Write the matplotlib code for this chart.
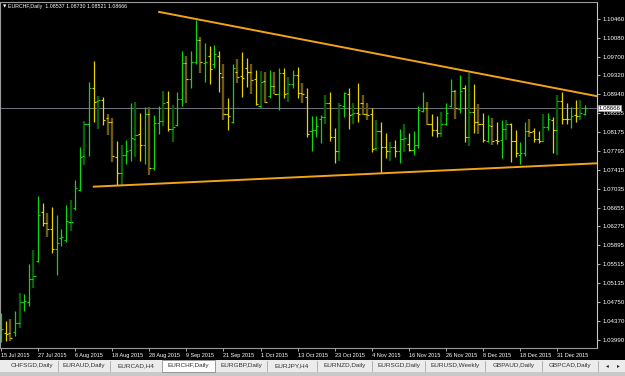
import matplotlib
matplotlib.use("Agg")
import matplotlib.pyplot as plt
from matplotlib.patches import Rectangle

# ---- data ----
opens = [1.0413, 1.0413, 1.0412, 1.0414, 1.0432, 1.0475, 1.0476, 1.0522, 1.0557, 1.0656,
         1.0634, 1.0622, 1.0581, 1.0604, 1.0600, 1.0636, 1.0665, 1.0701, 1.0770, 1.0835,
         1.0906, 1.0880, 1.0882, 1.0846, 1.0839, 1.0768, 1.0735, 1.0772, 1.0782, 1.0803,
         1.0813, 1.0792, 1.0854, 1.0746, 1.0837, 1.0840, 1.0878, 1.0824, 1.0833, 1.0884,
         1.0958, 1.0924, 1.0960, 1.1003, 1.0958, 1.0972, 1.0956, 1.0972, 1.0928, 1.0854,
         1.0838, 1.0938, 1.0930, 1.0946, 1.0938, 1.0924, 1.0871, 1.0921, 1.0890, 1.0911,
         1.0895, 1.0936, 1.0896, 1.0914, 1.0933, 1.0896, 1.0888, 1.0820, 1.0822, 1.0845,
         1.0848, 1.0876, 1.0807, 1.0780, 1.0871, 1.0894, 1.0854, 1.0857, 1.0876, 1.0854,
         1.0854, 1.0785, 1.0819, 1.0787, 1.0780, 1.0787, 1.0780, 1.0803, 1.0794, 1.0782,
         1.0792, 1.0861, 1.0866, 1.0834, 1.0822, 1.0816, 1.0835, 1.0871, 1.0901, 1.0864,
         1.0906, 1.0808, 1.0859, 1.0839, 1.0835, 1.0800, 1.0830, 1.0802, 1.0802, 1.0823,
         1.0835, 1.0800, 1.0772, 1.0776, 1.0819, 1.0819, 1.0803, 1.0800, 1.0827, 1.0842,
         1.0821, 1.0881, 1.0845, 1.0844, 1.0852, 1.0850, 1.08537]
highs = [1.0452, 1.0437, 1.0440, 1.0456, 1.0493, 1.0492, 1.0552, 1.0580, 1.0689, 1.0674,
         1.0655, 1.0666, 1.0651, 1.0622, 1.0671, 1.0681, 1.0721, 1.0787, 1.0840, 1.0918,
         1.0961, 1.0890, 1.0889, 1.0854, 1.0847, 1.0800, 1.0792, 1.0802, 1.0876, 1.0879,
         1.0856, 1.0869, 1.0868, 1.0852, 1.0871, 1.0901, 1.0901, 1.0872, 1.0898, 1.0981,
         1.0972, 1.0981, 1.1044, 1.1010, 1.0997, 1.0991, 1.0993, 1.0981, 1.0956, 1.0886,
         1.0956, 1.0965, 1.0980, 1.0968, 1.0954, 1.0943, 1.0941, 1.0939, 1.0943, 1.0938,
         1.0946, 1.0946, 1.0929, 1.0943, 1.0948, 1.0916, 1.0907, 1.0850, 1.0850, 1.0852,
         1.0892, 1.0898, 1.0825, 1.0876, 1.0898, 1.0906, 1.0876, 1.0916, 1.0892, 1.0876,
         1.0866, 1.0842, 1.0839, 1.0816, 1.0798, 1.0802, 1.0823, 1.0834, 1.0815, 1.0819,
         1.0870, 1.0898, 1.0879, 1.0855, 1.0850, 1.0859, 1.0876, 1.0924, 1.0903, 1.0933,
         1.0913, 1.0936, 1.0915, 1.0874, 1.0857, 1.0852, 1.0846, 1.0839, 1.0842, 1.0842,
         1.0837, 1.0821, 1.0798, 1.0839, 1.0844, 1.0825, 1.0819, 1.0854, 1.0856, 1.0849,
         1.0892, 1.0899, 1.0876, 1.0869, 1.0882, 1.0882, 1.08730]
lows = [1.0395, 1.0397, 1.0397, 1.0407, 1.0423, 1.0456, 1.0468, 1.0504, 1.0556, 1.0629,
        1.0607, 1.0573, 1.0529, 1.0588, 1.0597, 1.0619, 1.0661, 1.0698, 1.0751, 1.0770,
        1.0839, 1.0824, 1.0833, 1.0812, 1.0758, 1.0711, 1.0711, 1.0753, 1.0759, 1.0768,
        1.0759, 1.0753, 1.0731, 1.0741, 1.0813, 1.0829, 1.0819, 1.0797, 1.0829, 1.0871,
        1.0876, 1.0907, 1.0956, 1.0936, 1.0919, 1.0914, 1.0946, 1.0898, 1.0842, 1.0822,
        1.0837, 1.0916, 1.0889, 1.0909, 1.0894, 1.0872, 1.0867, 1.0876, 1.0886, 1.0894,
        1.0862, 1.0887, 1.0878, 1.0906, 1.0887, 1.0876, 1.0807, 1.0780, 1.0807, 1.0795,
        1.0835, 1.0800, 1.0756, 1.0760, 1.0848, 1.0824, 1.0835, 1.0839, 1.0852, 1.0842,
        1.0778, 1.0780, 1.0735, 1.0765, 1.0760, 1.0767, 1.0755, 1.0778, 1.0780, 1.0772,
        1.0785, 1.0859, 1.0832, 1.0810, 1.0808, 1.0808, 1.0832, 1.0869, 1.0844, 1.0856,
        1.0798, 1.0790, 1.0815, 1.0814, 1.0798, 1.0798, 1.0792, 1.0794, 1.0765, 1.0802,
        1.0758, 1.0768, 1.0753, 1.0770, 1.0808, 1.0798, 1.0796, 1.0798, 1.0822, 1.0776,
        1.0772, 1.0834, 1.0835, 1.0825, 1.0839, 1.0842, 1.08521]
closes = [1.0421, 1.0411, 1.0402, 1.0432, 1.0475, 1.0478, 1.0521, 1.0528, 1.0651, 1.0634,
          1.0622, 1.0582, 1.0594, 1.0606, 1.0638, 1.0637, 1.0704, 1.0768, 1.0835, 1.0906,
          1.0879, 1.0882, 1.0842, 1.0839, 1.0770, 1.0735, 1.0772, 1.0780, 1.0805, 1.0812,
          1.0792, 1.0854, 1.0746, 1.0837, 1.0840, 1.0876, 1.0824, 1.0827, 1.0884, 1.0958,
          1.0924, 1.0960, 1.1003, 1.0960, 1.0960, 1.0944, 1.0975, 1.0936, 1.0854, 1.0850,
          1.0946, 1.0929, 1.0927, 1.0938, 1.0923, 1.0874, 1.0919, 1.0878, 1.0911, 1.0895,
          1.0936, 1.0894, 1.0914, 1.0933, 1.0896, 1.0894, 1.0814, 1.0822, 1.0829, 1.0848,
          1.0876, 1.0807, 1.0780, 1.0872, 1.0896, 1.0852, 1.0857, 1.0855, 1.0855, 1.0852,
          1.0783, 1.0819, 1.0787, 1.0780, 1.0788, 1.0780, 1.0803, 1.0805, 1.0782, 1.0792,
          1.0862, 1.0866, 1.0834, 1.0821, 1.0816, 1.0835, 1.0856, 1.0901, 1.0866, 1.0901,
          1.0808, 1.0859, 1.0839, 1.0835, 1.0802, 1.0832, 1.0800, 1.0799, 1.0823, 1.0835,
          1.0800, 1.0775, 1.0776, 1.0819, 1.0817, 1.0803, 1.0800, 1.0827, 1.0845, 1.0821,
          1.0881, 1.0845, 1.0844, 1.0850, 1.0850, 1.0857, 1.08666]
# bar colour class: g bright up, G dark up, y bright down, o dark down
kinds = list("gyogGggGgyoygggGggGgyGyooyGggGygo"
             "ggGyGggoggogygyoyg"
             "oyyoyGogogyGgy"
             "oygggGyyGgyGyooyGyyGygGyggg"
             "oyyGggogyGyoygoygGyyggoyyGgyGyygyGg")

date_labels = ["15 Jul 2015", "27 Jul 2015", "6 Aug 2015", "18 Aug 2015", "28 Aug 2015",
               "9 Sep 2015", "21 Sep 2015", "1 Oct 2015", "13 Oct 2015", "23 Oct 2015",
               "4 Nov 2015", "16 Nov 2015", "26 Nov 2015", "8 Dec 2015", "18 Dec 2015",
               "31 Dec 2015"]
price_ticks = [1.10460, 1.10080, 1.09700, 1.09320, 1.08940, 1.08555, 1.08175, 1.07795,
               1.07415, 1.07035, 1.06655, 1.06275, 1.05895, 1.05515, 1.05135, 1.04750,
               1.04370, 1.03990]
last_price = 1.08666

upper_x = [33.9, 128.6]
upper_y = [1.10604, 1.08901]
lower_x = [19.8, 128.6]
lower_y = [1.07076, 1.07548]

tabs = ["CHFSGD,Daily", "EURAUD,Daily", "EURCAD,H4", "EURCHF,Daily", "EURGBP,Daily",
        "EURJPY,H4", "EURNZD,Daily", "EURSGD,Daily", "EURUSD,Weekly", "GBPAUD,Daily",
        "GBPCAD,Daily"]
active_tab = "EURCHF,Daily"

# ---- style ----
W, H = 625, 376
COL = {"g": "#12d612", "G": "#0b5d0b", "y": "#e6d400", "o": "#6b5a12"}
TICK = {"g": "#12d612", "G": "#12d612", "y": "#e6d400", "o": "#e6d400"}
LW = {"g": 0.9, "G": 1.7, "y": 0.9, "o": 1.7}
FONT = "Liberation Sans"

fig = plt.figure(figsize=(W / 100, H / 100), dpi=100, facecolor="black")
ax = fig.add_axes([0, 1 - 348 / H, 597 / W, 346 / H], facecolor="black")

n = len(opens)
for k in "Gogy":
    idx = [i for i in range(n) if kinds[i] == k]
    ax.vlines(idx, [lows[i] for i in idx], [highs[i] for i in idx],
              color=COL[k], lw=LW[k], zorder=3)
    ax.hlines([opens[i] for i in idx], [i - 0.45 for i in idx], idx,
              color=TICK[k], lw=0.8, zorder=3)
    ax.hlines([closes[i] for i in idx], idx, [i + 0.45 for i in idx],
              color=TICK[k], lw=0.8, zorder=3)

ax.axhline(last_price, color="#6f7280", lw=0.7, zorder=2)
ax.plot(upper_x, upper_y, color="#f2a31a", lw=1.4, zorder=4, solid_capstyle="butt")
ax.plot(lower_x, lower_y, color="#f2a31a", lw=1.4, zorder=4, solid_capstyle="butt")

ax.set_xlim(-0.216, 128.58)
ax.set_ylim(1.03824, 1.10800)

for s in ax.spines.values():
    s.set_color("#9a9a9a")
    s.set_linewidth(0.8)
ax.spines["right"].set_color("#c8c8c8")

ax.yaxis.tick_right()
ax.set_yticks(price_ticks)
ax.set_yticklabels([f"{v:.5f}" for v in price_ticks])
ax.tick_params(axis="y", length=2.5, width=0.6, color="#c8c8c8", pad=1.2,
               labelsize=4.4, labelcolor="white")
ax.set_xticks(list(range(0, 8 * len(date_labels), 8)))
ax.set_xticklabels(date_labels)
ax.tick_params(axis="x", length=2, width=0.6, color="#c8c8c8", pad=1.5,
               labelsize=4.0, labelcolor="white")
for t in ax.get_xticklabels() + ax.get_yticklabels():
    t.set_fontfamily(FONT)
for t in ax.get_xticklabels():
    t.set_horizontalalignment("left")

# symbol header
ax.text(3 / 597, 1 - 4.5 / 346, "\u25bc", transform=ax.transAxes, color="white",
        fontsize=3.2, va="center", ha="left", family="DejaVu Sans")
ax.text(8 / 597, 1 - 4.5 / 346, "EURCHF,Daily  1.08537 1.08730 1.08521 1.08666",
        transform=ax.transAxes, color="white", fontsize=3.8, va="center", ha="left",
        family=FONT)

# last price box on the axis
fig.text(598.5 / W, 1 - 108 / H, f"{last_price:.5f}", fontsize=4.4, family=FONT,
         color="black", va="center", ha="left",
         bbox=dict(boxstyle="square,pad=0.15", fc="white", ec="#a0a0a0", lw=0.5))

# tab strip
tb = fig.add_axes([0, 0, 1, 16 / H])
tb.set_xlim(0, W)
tb.set_ylim(H, H - 16)
tb.axis("off")
tb.add_patch(Rectangle((0, 360), W, 16, fc="#ececec", ec="none"))
tb.add_patch(Rectangle((0, 371.5), W, 5, fc="#c9c9c9", ec="none"))
edges = [6, 58, 110, 162, 215, 267, 317, 372, 425, 485, 542, 598]
for j, name in enumerate(tabs):
    x0, x1 = edges[j], edges[j + 1]
    if name == active_tab:
        tb.add_patch(Rectangle((x0, 360), x1 - x0, 11.5, fc="white", ec="#8a8a8a", lw=0.6))
    else:
        tb.plot([x1, x1], [361, 371], color="#a8a8a8", lw=0.6)
    tb.text((x0 + x1) / 2, 366, name, fontsize=4.6, family=FONT, color="#303030",
            ha="center", va="center")
tb.text(607, 366, "\u25c2", fontsize=4, color="#202020", ha="center", va="center")
tb.text(618, 366, "\u25b8", fontsize=4, color="#202020", ha="center", va="center")

fig.savefig("out.png", dpi=100, facecolor="black")
